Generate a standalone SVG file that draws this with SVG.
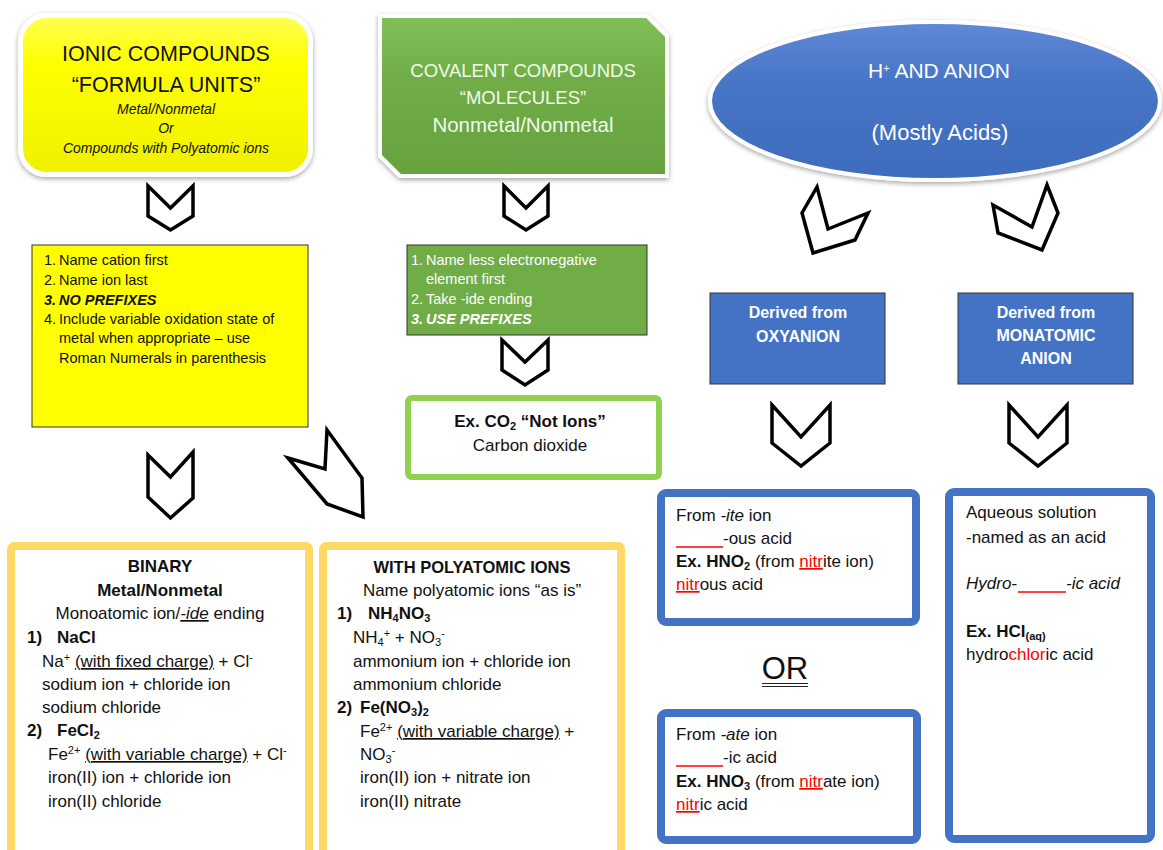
<svg xmlns="http://www.w3.org/2000/svg" width="1163" height="850" viewBox="0 0 1163 850">
<defs>
<linearGradient id="gY" x1="0" y1="0" x2="0" y2="1"><stop offset="0" stop-color="#FFFF55"/><stop offset="0.3" stop-color="#FFFF00"/><stop offset="1" stop-color="#F0F000"/></linearGradient>
<linearGradient id="gG" x1="0" y1="0" x2="0" y2="1"><stop offset="0" stop-color="#80C058"/><stop offset="0.4" stop-color="#70AD47"/><stop offset="1" stop-color="#66A240"/></linearGradient>
<linearGradient id="gB" x1="0" y1="0" x2="0" y2="1"><stop offset="0" stop-color="#5F89D6"/><stop offset="0.4" stop-color="#4674C6"/><stop offset="1" stop-color="#406CBC"/></linearGradient>
<filter id="sh" x="-10%" y="-10%" width="120%" height="130%"><feDropShadow dx="0" dy="2" stdDeviation="2.5" flood-color="#000" flood-opacity="0.35"/></filter>
<style>
text{font-family:"Liberation Sans",Arial,sans-serif;fill:#111}
.chev{fill:#fff;stroke:#000;stroke-width:3.5;stroke-linejoin:miter}
.b{font-weight:bold}
.i{font-style:italic}
.u{text-decoration:underline}
.body{font-size:17px}
.rule{font-size:14.5px}
.w{fill:#fff}
.red{fill:#FF0000}
.rl{stroke:#FF0000;stroke-width:1.3}
.ex{fill:#fff;stroke:#4472C4;stroke-width:8}
.yb{fill:#fff;stroke:#FFD966;stroke-width:8}
.mid{text-anchor:middle}
.sub{font-size:11px;baseline-shift:-3px}
.sup{font-size:11px;baseline-shift:6px}
</style>
</defs>
<rect width="1163" height="850" fill="#fff"/>

<g id="ionic">
<rect x="20.5" y="15.5" width="290" height="159" rx="26" fill="url(#gY)" stroke="#fff" stroke-width="5" filter="url(#sh)"/>
<text x="166" y="61" class="mid" font-size="21.5">IONIC COMPOUNDS</text>
<text x="166" y="92" class="mid" font-size="21.5">“FORMULA UNITS”</text>
<text x="166" y="114" class="mid i" font-size="14">Metal/Nonmetal</text>
<text x="166" y="133" class="mid i" font-size="14">Or</text>
<text x="166" y="153" class="mid i" font-size="14">Compounds with Polyatomic ions</text>
</g>

<g id="covalent">
<polygon points="380,16 647,16 667,36 667,176 400,176 380,156" fill="url(#gG)" stroke="#fff" stroke-width="4" filter="url(#sh)"/>
<text x="523" y="77" class="mid" font-size="18.5" style="fill:#F2FBEA">COVALENT COMPOUNDS</text>
<text x="523" y="104" class="mid" font-size="18.5" style="fill:#F2FBEA">“MOLECULES”</text>
<text x="523" y="132" class="mid" font-size="20.5" style="fill:#F2FBEA">Nonmetal/Nonmetal</text>
</g>

<g id="acid">
<ellipse cx="935" cy="101" rx="225" ry="79" fill="url(#gB)" stroke="#fff" stroke-width="4" filter="url(#sh)"/>
<text x="939" y="78" class="mid w" font-size="21">H<tspan class="sup" font-size="13">+</tspan> AND ANION</text>
<text x="940" y="140" class="mid w" font-size="22">(Mostly Acids)</text>
</g>

<g id="ionic-rules">
<rect x="32" y="245" width="276" height="182" fill="#FFFF00" stroke="#333" stroke-width="1"/>
<g class="rule">
<text x="44" y="265">1.</text><text x="59" y="265">Name cation first</text>
<text x="44" y="285">2.</text><text x="59" y="285">Name ion last</text>
<text x="44" y="305" class="b i">3.</text><text x="59" y="305" class="b i">NO PREFIXES</text>
<text x="44" y="324">4.</text><text x="59" y="324">Include variable oxidation state of</text>
<text x="59" y="343">metal when appropriate – use</text>
<text x="59" y="363">Roman Numerals in parenthesis</text>
</g>
</g>

<g id="covalent-rules">
<rect x="407" y="245" width="240" height="90" fill="#70AD47" stroke="#333" stroke-width="1"/>
<g class="rule">
<text x="411" y="265" class="w">1.</text><text x="426" y="265" class="w">Name less electronegative</text>
<text x="426" y="284" class="w">element first</text>
<text x="411" y="304" class="w">2.</text><text x="426" y="304" class="w">Take -ide ending</text>
<text x="411" y="324" class="w b i">3.</text><text x="426" y="324" class="w b i">USE PREFIXES</text>
</g>
</g>

<g id="co2">
<rect x="408" y="398" width="251" height="79" rx="4" fill="#fff" stroke="#92D050" stroke-width="6"/>
<text x="530" y="427" class="mid b body">Ex. CO<tspan class="sub">2</tspan> “Not Ions”</text>
<text x="530" y="451" class="mid body">Carbon dioxide</text>
</g>

<g id="oxyanion">
<rect x="710" y="293" width="175" height="91" fill="#4472C4" stroke="#333" stroke-width="1"/>
<text x="798" y="318" class="mid w b" font-size="16">Derived from</text>
<text x="798" y="342" class="mid w b" font-size="16">OXYANION</text>
</g>

<g id="monatomic">
<rect x="958" y="293" width="175" height="91" fill="#4472C4" stroke="#333" stroke-width="1"/>
<text x="1046" y="318" class="mid w b" font-size="16">Derived from</text>
<text x="1046" y="341" class="mid w b" font-size="16">MONATOMIC</text>
<text x="1046" y="364" class="mid w b" font-size="16">ANION</text>
</g>

<g id="binary">
<rect x="11" y="546" width="298" height="330" rx="3" class="yb"/>
<g class="body">
<text x="160" y="572" class="mid b">BINARY</text>
<text x="160" y="596" class="mid b">Metal/Nonmetal</text>
<text x="160" y="619" class="mid">Monoatomic ion/<tspan class="i u">-ide</tspan> ending</text>
<text x="27" y="643" class="b">1)</text><text x="57" y="643" class="b">NaCl</text>
<text x="42" y="667">Na<tspan class="sup">+</tspan> <tspan class="u">(with fixed charge)</tspan> + Cl<tspan class="sup">-</tspan></text>
<text x="42" y="690">sodium ion + chloride ion</text>
<text x="42" y="713">sodium chloride</text>
<text x="27" y="736" class="b">2)</text><text x="57" y="736" class="b">FeCl<tspan class="sub">2</tspan></text>
<text x="48" y="760">Fe<tspan class="sup">2+</tspan> <tspan class="u">(with variable charge)</tspan> + Cl<tspan class="sup">-</tspan></text>
<text x="48" y="783">iron(II) ion + chloride ion</text>
<text x="48" y="807">iron(II) chloride</text>
</g>
</g>

<g id="polyatomic">
<rect x="323" y="546" width="298" height="330" rx="3" class="yb"/>
<g class="body">
<text x="472" y="573" class="mid b" font-size="16.5">WITH POLYATOMIC IONS</text>
<text x="472" y="596" class="mid">Name polyatomic ions “as is”</text>
<text x="337" y="619" class="b">1)</text><text x="368" y="619" class="b">NH<tspan class="sub">4</tspan>NO<tspan class="sub">3</tspan></text>
<text x="353" y="643">NH<tspan class="sub">4</tspan><tspan class="sup">+</tspan> + NO<tspan class="sub">3</tspan><tspan class="sup">-</tspan></text>
<text x="353" y="667">ammonium ion + chloride ion</text>
<text x="353" y="690">ammonium chloride</text>
<text x="337" y="713" class="b">2)</text><text x="360" y="713" class="b">Fe(NO<tspan class="sub">3</tspan>)<tspan class="sub">2</tspan></text>
<text x="360" y="737">Fe<tspan class="sup">2+</tspan> <tspan class="u">(with variable charge)</tspan> +</text>
<text x="360" y="760">NO<tspan class="sub">3</tspan><tspan class="sup">-</tspan></text>
<text x="360" y="783">iron(II) ion + nitrate ion</text>
<text x="360" y="807">iron(II) nitrate</text>
</g>
</g>

<g id="ite-acid">
<rect x="661" y="493" width="255" height="129" rx="5" class="ex"/>
<g class="body">
<text x="676" y="521">From <tspan class="i">-ite</tspan> ion</text>
<line x1="676" y1="547" x2="723" y2="547" class="rl"/>
<text x="723" y="544">-ous acid</text>
<text x="676" y="567"><tspan class="b">Ex. HNO<tspan class="sub">2</tspan></tspan> (from <tspan class="red u">nitr</tspan>ite ion)</text>
<text x="676" y="590"><tspan class="red u">nitr</tspan>ous acid</text>
</g>
</g>

<g id="or-label">
<text x="785" y="679" class="mid" font-size="31">OR</text>
<line x1="762" y1="683.5" x2="808" y2="683.5" stroke="#222" stroke-width="1"/>
<line x1="762" y1="686.5" x2="808" y2="686.5" stroke="#222" stroke-width="1"/>
</g>

<g id="ate-acid">
<rect x="661" y="713" width="256" height="127" rx="5" class="ex"/>
<g class="body">
<text x="676" y="740">From <tspan class="i">-ate</tspan> ion</text>
<line x1="676" y1="766" x2="723" y2="766" class="rl"/>
<text x="723" y="763">-ic acid</text>
<text x="676" y="787"><tspan class="b">Ex. HNO<tspan class="sub">3</tspan></tspan> (from <tspan class="red u">nitr</tspan>ate ion)</text>
<text x="676" y="810"><tspan class="red u">nitr</tspan>ic acid</text>
</g>
</g>

<g id="hydro-acid">
<rect x="949" y="492" width="202" height="347" rx="5" class="ex"/>
<g class="body">
<text x="966" y="518">Aqueous solution</text>
<text x="966" y="543">-named as an acid</text>
<text x="966" y="589" class="i">Hydro-</text>
<line x1="1018" y1="592" x2="1066" y2="592" class="rl"/>
<text x="1066" y="589" class="i">-ic acid</text>
<text x="966" y="637" class="b">Ex. HCl<tspan class="sub">(aq)</tspan></text>
<text x="966" y="660">hydro<tspan class="red">chlor</tspan>ic acid</text>
</g>
</g>

<g id="connectors">
<polygon class="chev" points="148,186 170.5,208 193,186 193,216 170.5,230 148,216"/>
<polygon class="chev" points="504,186 526,208 548,186 548,216 526,230 504,216"/>
<polygon class="chev" points="502,340 525,362 548,340 548,370 525,385 502,370"/>
<polygon class="chev" points="148,455 170.5,477 193,452 193,498 170.5,518 148,497"/>
<polygon class="chev" points="288,458 325,469 327,430 362,478 363,517 327,504"/>
<polygon class="chev" points="817,187 828,229 868,213 855,240 813,253 802,213"/>
<polygon class="chev" points="1047,185 1058,213 1042,250 998,233 993,205 1032,227"/>
<polygon class="chev" points="772,405 801,437 830,405 830,443 801,466 772,443"/>
<polygon class="chev" points="1009,405 1038,437 1067,405 1067,443 1038,466 1009,443"/>
</g>
</svg>
